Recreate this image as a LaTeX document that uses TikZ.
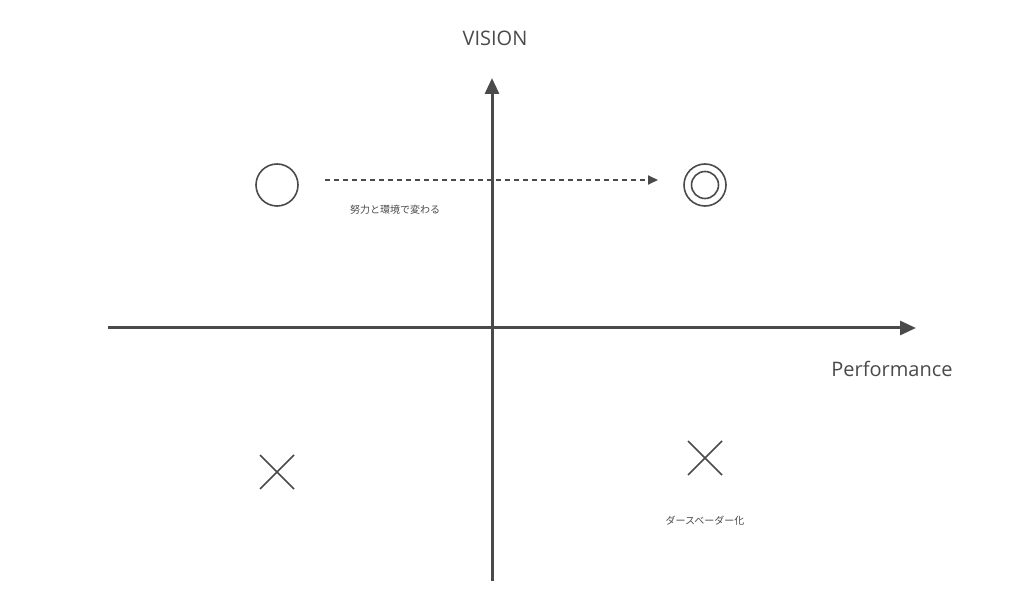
\documentclass[tikz,border=0pt]{standalone}
\usepackage{fontspec}
\setmainfont{Open Sans}
\newfontfamily\cjk{Noto Sans CJK JP}
\usetikzlibrary{arrows.meta}
\definecolor{ink}{HTML}{4A4A4A}
\begin{document}
\begin{tikzpicture}[x=1pt,y=-1pt,
  axis/.style={draw=ink,line width=3pt,-{Triangle[length=16pt,width=14pt]}},
  sym/.style={draw=ink,line width=1.6pt},
  lab/.style={text=ink,font=\fontsize{20}{24}\selectfont,inner sep=0pt},
  jlab/.style={text=ink,font=\cjk\fontsize{10}{12}\selectfont,inner sep=0pt}]
\useasboundingbox (0,0) rectangle (1023,612);
\coordinate (xs) at (108,328); \coordinate (xe) at (916,328);
\coordinate (ys) at (492,581); \coordinate (ye) at (492,78);
\draw[axis] (xs) -- (xe);
\draw[axis] (ys) -- (ye);
\node[lab] (v) at (495,38) {VISION};
\node[lab] (p) at (892,369) {Performance};
\node[sym,circle,minimum size=42pt,inner sep=0pt] (c1) at (277,185) {};
\node[sym,circle,minimum size=42pt,inner sep=0pt] (c2) at (705,185) {};
\node[sym,circle,minimum size=27pt,inner sep=0pt] (c2i) at (705,185) {};
\coordinate (ds) at (325,180); \coordinate (de) at (658,180);
\draw[draw=ink,line width=1.8pt,dash pattern=on 5pt off 4pt,-{Triangle[length=10pt,width=9pt]}] (ds) -- (de);
\node[jlab] (t1) at (395,210) {努力と環境で変わる};
\draw[sym] (260,455) -- (294,489) (260,489) -- (294,455);
\draw[sym] (688,441) -- (722,475) (688,475) -- (722,441);
\node[jlab] (t2) at (705,521) {ダースベーダー化};
\end{tikzpicture}
\end{document}
